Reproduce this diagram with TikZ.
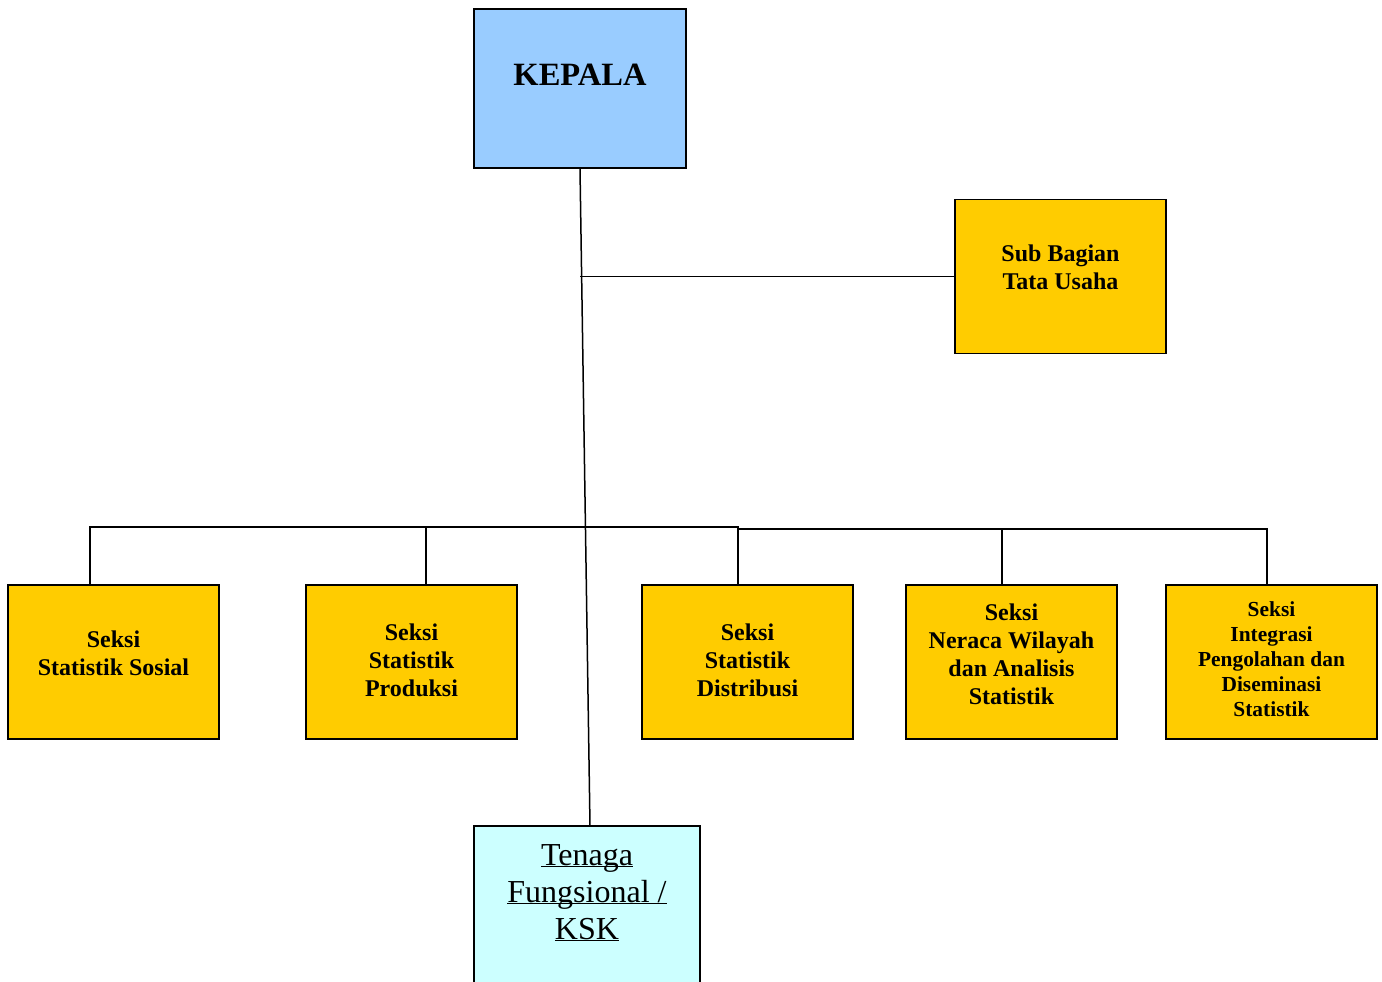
\documentclass[tikz,border=0pt]{standalone}
\usepackage{fontspec}
\setmainfont{Liberation Serif}
\definecolor{kblue}{HTML}{99CCFF}
\definecolor{yel}{HTML}{FFCC00}
\definecolor{tcyan}{HTML}{CCFFFF}
\newcommand\myul[1]{\underline{\smash{#1}}}
\begin{document}
\begin{tikzpicture}[x=1pt,y=-1pt,
  box/.style={draw, line width=1.6pt, minimum width=211pt, minimum height=154pt, inner sep=0pt, fill=yel},
  lbl/.style={align=center, inner sep=0pt, font=\bfseries\fontsize{24}{28}\selectfont},
  lblsmall/.style={align=center, inner sep=0pt, font=\bfseries\fontsize{21.4}{25}\selectfont},
  conn/.style={line width=1.5pt}]
\useasboundingbox (0,0) rectangle (1382,982);
\clip (0,0) rectangle (1382,982);
% boxes
\node[box, fill=kblue, minimum width=212pt, minimum height=159pt] (kepala) at (580,88.5) {};
\node[font=\bfseries\fontsize{32.5}{36}\selectfont, inner sep=0pt] (kepalaT) at (580,75) {KEPALA};
\node[box] (subbag) at (1060.5,276.5) {};
\node[lbl] (subbagT) at (1060.5,267) {Sub Bagian\\Tata Usaha};
\node[box] (s1) at (113.5,662) {};
\node[lbl] (s1T) at (113.5,653) {Seksi\\Statistik Sosial};
\node[box] (s2) at (411.5,662) {};
\node[lbl] (s2T) at (411.5,660) {Seksi\\Statistik\\Produksi};
\node[box] (s3) at (747.5,662) {};
\node[lbl] (s3T) at (747.5,660) {Seksi\\Statistik\\Distribusi};
\node[box] (s4) at (1011.5,662) {};
\node[lbl] (s4T) at (1011.5,654) {Seksi\\Neraca Wilayah\\dan Analisis\\Statistik};
\node[box] (s5) at (1271.5,662) {};
\node[lblsmall] (s5T) at (1271.5,659) {Seksi\\Integrasi\\Pengolahan dan\\Diseminasi\\Statistik};
\node[box, fill=tcyan, minimum width=226pt, minimum height=190pt] (tenaga) at (587,921) {};
\node[align=center, inner sep=0pt, font=\fontsize{32}{37}\selectfont] (tenagaT) at (587,903) {\myul{Tenaga}\\\myul{Fungsional /}\\\myul{KSK}};
% connectors
\coordinate (tenagaTop) at (590,826);
\draw[conn] (kepala.south) -- (tenagaTop);
\draw[conn] (kepala.south |- subbag.west) -- (subbag.west);
\coordinate (b1) at (90,585);
\coordinate (b2) at (426,585);
\coordinate (b3) at (738,585);
\coordinate (b4) at (1002,585);
\coordinate (b5) at (1267,585);
\coordinate (busA) at (0,527);
\coordinate (busB) at (0,529);
\draw[conn] (b1) -- (b1 |- busA) -- (b3 |- busA) -- (b3 |- busB) -- (b5 |- busB) -- (b5);
\draw[conn] (b2) -- (b2 |- busA);
\draw[conn] (b3) -- (b3 |- busB);
\draw[conn] (b4) -- (b4 |- busB);
\end{tikzpicture}
\end{document}
